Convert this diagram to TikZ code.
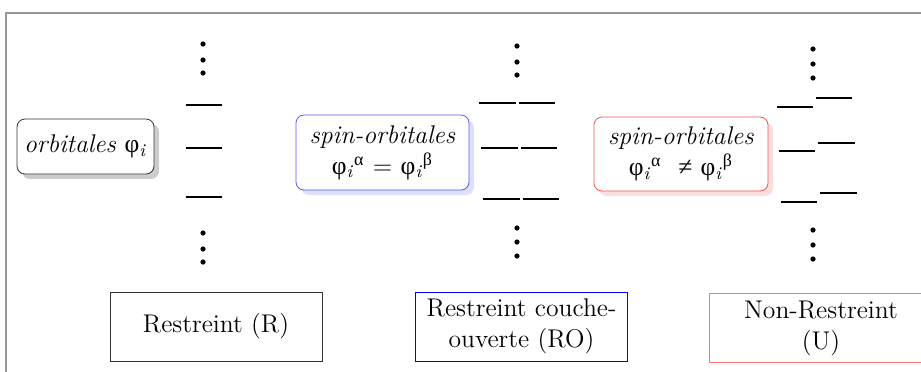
\documentclass[tikz,border=0pt]{standalone}
\usepackage{fontspec}
\newfontfamily\greekfont{Liberation Serif}
\usetikzlibrary{shadows}
\definecolor{spinblue}{RGB}{90,90,245}
\definecolor{spinred}{RGB}{240,85,85}
\definecolor{frameg}{RGB}{150,150,150}
\newcommand{\gr}[1]{{\greekfont #1}}

\begin{document}
\begin{tikzpicture}[x=0.5pt,y=-0.5pt,
    font=\fontsize{12.8}{15.5}\selectfont,
    level/.style={line width=0.8pt},
    orbbox/.style={draw, rounded corners=4pt, fill=white, align=center, inner sep=0pt},
    methbox/.style={draw, fill=white, align=center, inner sep=0pt, minimum width=106pt, minimum height=34.5pt}]
			%%%%% START %%%%%
			\useasboundingbox (0,0) rectangle (921,371);
			\draw[frameg, line width=1pt] (6,13) rectangle (935,385);
			
			% orbitales
			\node[orbbox, draw=black!80, drop shadow={fill=black!40, shadow xshift=2.5pt, shadow yshift=-2.5pt},
			      minimum width=68.5pt, minimum height=27.5pt] (orb) at (85.5,146.5)
			      {\textit{orbitales} \gr{φ}\textsubscript{\textit{i}}};
			\node[orbbox, draw=spinblue, drop shadow={fill=spinblue!40, shadow xshift=2.5pt, shadow yshift=-2.5pt},
			      minimum width=86.5pt, minimum height=37.5pt] (spinR) at (382.5,152.5)
			      {\textit{spin-orbitales}\\\gr{φ}\textsubscript{\textit{i}}\textsuperscript{\gr{α}} = \gr{φ}\textsubscript{\textit{i}}\textsuperscript{\gr{β}}};
			\node[orbbox, draw=spinred, drop shadow={fill=spinred!40, shadow xshift=2.5pt, shadow yshift=-2.5pt},
			      minimum width=87pt, minimum height=37pt] (spinU) at (681,154)
			      {\textit{spin-orbitales}\\\gr{φ}\textsubscript{\textit{i}}\textsuperscript{\gr{α}}\ \ \gr{≠} \gr{φ}\textsubscript{\textit{i}}\textsuperscript{\gr{β}}};
			
			% R
			\foreach \y in {44,60,73,233,249,262} \fill (203,\y) circle (1.3pt);
			\foreach \y in {105,148,197} \draw[level] (186,\y) -- (222,\y);
			
			% RO
			\foreach \y in {46,62,75,228,242,256} \fill (517,\y) circle (1.3pt);
			\draw[level] (479,103) -- (516,103);
			\draw[level] (519,103) -- (555,103);
			\draw[level] (481,148) -- (518,148);
			\draw[level] (521,148) -- (557,148);
			\draw[level] (483,199) -- (520,199);
			\draw[level] (523,199) -- (559,199);
			
			% U
			\foreach \y in {49,64,78,230,245,259} \fill (813,\y) circle (1.3pt);
			\draw[level] (777,107) -- (813,107);
			\draw[level] (816,98) -- (852,98);
			\draw[level] (779,151) -- (815,151);
			\draw[level] (818,143) -- (855,143);
			\draw[level] (781,202) -- (817,202);
			\draw[level] (820,193) -- (857,193);
			
			% methodes
			\node[methbox, draw=black!80] (R) at (216,326.5) {Restreint (R)};
			\node[methbox, draw=blue] (RO) at (521.5,326.5) {Restreint couche-\\ouverte (RO)};
			\node[methbox, draw=spinred!80, minimum width=112pt] (U) at (821,328) {Non-Restreint\\(U)};
			%%%%% END %%%%%
\end{tikzpicture}
\end{document}
